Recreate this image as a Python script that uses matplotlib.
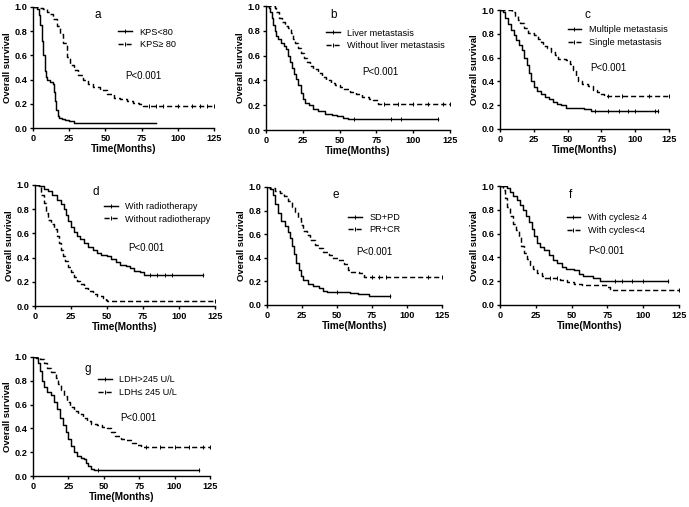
import matplotlib
matplotlib.use("Agg")
import matplotlib.pyplot as plt
from matplotlib.lines import Line2D

plt.rcParams['font.family'] = ['Liberation Sans', 'DejaVu Sans']

# --- survival curves (time in months, survival fraction), drawn step-post ---
# a: KPS
a_t1 = [0, 3, 4, 5, 6, 7, 8, 9, 10, 11.5, 13.5, 14.5, 15, 16, 17, 18, 20, 22, 25, 28, 85]
a_s1 = [1.0, 0.98, 0.93, 0.85, 0.72, 0.6, 0.47, 0.42, 0.4, 0.38, 0.36, 0.3, 0.22, 0.15, 0.1,
        0.085, 0.075, 0.065, 0.055, 0.045, 0.045]
a_t2 = [0, 5, 7, 9.5, 11.8, 14, 16.4, 18.7, 21, 23.3, 25.6, 28, 31.4, 34.8, 38, 41.7, 46.4, 51,
        55.6, 60, 64.8, 69.4, 72.9, 76.3, 125]
a_s2 = [1.0, 0.99, 0.98, 0.96, 0.94, 0.9, 0.84, 0.78, 0.7, 0.59, 0.52, 0.48, 0.44, 0.4, 0.36,
        0.335, 0.31, 0.285, 0.25, 0.24, 0.225, 0.21, 0.2, 0.18, 0.18]
a_c2 = [80, 85, 90, 100, 110, 115, 120, 125]

# b: liver metastasis
b_t1 = [0, 2, 3, 4, 5, 6, 7, 8, 10, 12, 13.8, 15, 16, 17.5, 19, 20.5, 22, 23.5, 25, 26.5, 29,
        32, 35, 40, 45, 48, 52, 56, 117]
b_s1 = [1.0, 0.98, 0.95, 0.9, 0.85, 0.8, 0.76, 0.73, 0.7, 0.68, 0.65, 0.6, 0.55, 0.5, 0.45,
        0.41, 0.36, 0.3, 0.25, 0.22, 0.2, 0.17, 0.15, 0.13, 0.12, 0.11, 0.095, 0.085, 0.085]
b_t2 = [0, 6, 7, 9, 11, 13, 15, 17, 18.5, 20, 22, 24, 26, 28, 30, 32, 35, 38, 41, 44, 47, 50,
        53, 57, 61, 65, 70, 73, 76, 125]
b_s2 = [1.0, 0.98, 0.95, 0.9, 0.87, 0.84, 0.82, 0.78, 0.73, 0.7, 0.66, 0.62, 0.58, 0.55, 0.52,
        0.49, 0.46, 0.43, 0.4, 0.38, 0.36, 0.35, 0.33, 0.31, 0.29, 0.27, 0.25, 0.24, 0.21, 0.21]
b_c1 = [60, 85, 92, 117]
b_c2 = [80, 90, 100, 110, 120, 125]

# c: metastasis count
c_t1 = [0, 2, 4, 6, 8, 10, 12, 14, 16, 18, 20, 21.5, 23, 25, 27, 30, 33, 36, 39, 42, 45, 49,
        55, 62, 67, 117]
c_s1 = [1.0, 0.98, 0.93, 0.88, 0.83, 0.79, 0.75, 0.71, 0.66, 0.6, 0.54, 0.47, 0.4, 0.35, 0.32,
        0.29, 0.27, 0.25, 0.23, 0.21, 0.2, 0.18, 0.175, 0.17, 0.155, 0.155]
c_t2 = [0, 9, 11, 13, 15, 18, 21, 25, 28, 30, 32, 35, 38, 41, 43, 49, 52, 54, 56, 58, 61, 65,
        69, 72, 75, 77, 125]
c_s2 = [1.0, 0.98, 0.95, 0.92, 0.89, 0.85, 0.81, 0.79, 0.76, 0.73, 0.7, 0.68, 0.65, 0.62, 0.59,
        0.58, 0.55, 0.5, 0.44, 0.4, 0.38, 0.36, 0.33, 0.31, 0.29, 0.28, 0.28]
c_c1 = [70, 80, 88, 95, 100, 115, 117]
c_c2 = [80, 90, 110, 125]

# d: radiotherapy
d_t1 = [0, 3, 6, 9, 12, 15, 18, 20, 21.5, 23, 25, 27, 29, 31, 34, 37, 40, 43, 46, 50, 53, 56,
        59, 63, 66, 69, 73, 75.5, 117]
d_s1 = [1.0, 0.99, 0.97, 0.95, 0.92, 0.88, 0.84, 0.8, 0.75, 0.7, 0.65, 0.61, 0.58, 0.55, 0.52,
        0.49, 0.46, 0.44, 0.42, 0.41, 0.39, 0.36, 0.34, 0.33, 0.31, 0.29, 0.28, 0.26, 0.26]
d_t2 = [0, 3, 4.5, 6, 7.5, 9, 11, 13, 15, 16.5, 18, 19.5, 21, 23, 25, 27, 29, 31, 34, 37, 40,
        43, 47, 49, 50, 125]
d_s2 = [1.0, 0.98, 0.92, 0.85, 0.77, 0.71, 0.68, 0.64, 0.58, 0.52, 0.46, 0.41, 0.37, 0.32, 0.28,
        0.24, 0.21, 0.18, 0.15, 0.12, 0.1, 0.08, 0.07, 0.05, 0.04, 0.04]
d_c1 = [80, 85, 90, 95, 117]
d_c2 = [125]

# e: response
e_t1 = [0, 2, 4, 6, 8, 10, 13, 15, 16.5, 18, 19.5, 21, 22.5, 24, 26, 29, 33, 37, 40, 43, 59,
        65, 73, 88]
e_s1 = [1.0, 0.98, 0.93, 0.86, 0.78, 0.71, 0.67, 0.62, 0.57, 0.5, 0.43, 0.36, 0.3, 0.25, 0.21,
        0.18, 0.16, 0.14, 0.12, 0.11, 0.1, 0.09, 0.08, 0.075]
e_t2 = [0, 2, 6, 9.5, 12, 15, 18, 20, 22, 24, 26, 28.5, 31, 34, 37, 40, 44, 47, 51, 55, 58, 60,
        66, 69, 125]
e_s2 = [1.0, 0.99, 0.97, 0.95, 0.92, 0.88, 0.83, 0.79, 0.74, 0.68, 0.63, 0.59, 0.55, 0.51, 0.48,
        0.45, 0.42, 0.4, 0.38, 0.35, 0.3, 0.28, 0.27, 0.24, 0.24]
e_c1 = [50, 88]
e_c2 = [75, 80, 85, 115, 125]

# f: chemo cycles
f_t1 = [0, 5, 7, 9, 12, 14, 16, 18, 20, 22, 24, 26, 28, 31, 34, 37, 40, 43, 46, 52, 55, 58,
        65, 70, 117]
f_s1 = [1.0, 0.98, 0.95, 0.92, 0.88, 0.84, 0.8, 0.75, 0.7, 0.64, 0.58, 0.52, 0.49, 0.46, 0.42,
        0.38, 0.35, 0.32, 0.3, 0.29, 0.26, 0.24, 0.23, 0.2, 0.2]
f_t2 = [0, 2, 3.5, 5, 7, 9, 11, 13, 15, 17, 19, 21, 23, 26, 29, 31, 42, 47, 52, 57, 74, 77, 125]
f_s2 = [1.0, 0.97, 0.9, 0.82, 0.75, 0.68, 0.63, 0.57, 0.5, 0.44, 0.39, 0.34, 0.3, 0.27, 0.24,
        0.23, 0.21, 0.19, 0.18, 0.17, 0.15, 0.13, 0.13]
f_c1 = [80, 85, 92, 100, 117]
f_c2 = [35, 40, 125]

# g: LDH
g_t1 = [0, 2, 3.5, 5, 6.5, 8, 10, 13, 15, 17, 19, 21, 23, 25, 27, 29, 31, 34, 36, 37.5, 39,
        41, 43, 117]
g_s1 = [1.0, 0.99, 0.95, 0.88, 0.8, 0.75, 0.71, 0.68, 0.62, 0.56, 0.49, 0.43, 0.37, 0.31, 0.25,
        0.2, 0.17, 0.15, 0.14, 0.11, 0.08, 0.06, 0.05, 0.05]
g_t2 = [0, 5, 8, 10, 13, 16, 18, 20, 22, 24, 26, 29, 32, 35, 38, 41, 45, 49, 52, 55, 58, 62,
        66, 70, 73, 76, 125]
g_s2 = [1.0, 0.98, 0.95, 0.91, 0.87, 0.82, 0.77, 0.72, 0.67, 0.62, 0.58, 0.55, 0.52, 0.49, 0.46,
        0.44, 0.43, 0.41, 0.4, 0.37, 0.34, 0.31, 0.3, 0.28, 0.26, 0.24, 0.24]
g_c1 = [46, 117]
g_c2 = [80, 90, 100, 110, 120, 125]

panels = [
    # letter, curves, labels, axes box (px: l, r, t, b), letter pos, legend anchor, p-value pos
    ("a", (a_t1, a_s1, [], a_t2, a_s2, a_c2), ["KPS<80", "KPS\u2265 80"],
     (33, 214, 7, 128), (45, 0.93), (59, 0.74), (63.6, 0.43)),
    ("b", (b_t1, b_s1, b_c1, b_t2, b_s2, b_c2), ["Liver metastasis", "Without liver metastasis"],
     (266, 450, 6, 130), (45.6, 0.93), (41, 0.73), (65.6, 0.47)),
    ("c", (c_t1, c_s1, c_c1, c_t2, c_s2, c_c2), ["Multiple metastasis", "Single metastasis"],
     (500, 669, 10, 129), (65, 0.955), (50, 0.78), (67, 0.51)),
    ("d", (d_t1, d_s1, d_c1, d_t2, d_s2, d_c2), ["With radiotherapy", "Without radiotherapy"],
     (35, 215, 185, 306), (42, 0.94), (48, 0.77), (65, 0.48)),
    ("e", (e_t1, e_s1, e_c1, e_t2, e_s2, e_c2), ["SD+PD", "PR+CR"],
     (267, 442, 187, 305), (49, 0.93), (58, 0.69), (64, 0.45)),
    ("f", (f_t1, f_s1, f_c1, f_t2, f_s2, f_c2), ["With cycles\u2265 4", "With cycles<4"],
     (500, 679, 186, 305), (49.5, 0.925), (46.5, 0.68), (61.7, 0.45)),
    ("g", (g_t1, g_s1, g_c1, g_t2, g_s2, g_c2), ["LDH>245 U/L", "LDH\u2264 245 U/L"],
     (33, 210, 357, 476), (39, 0.9), (46, 0.755), (61.5, 0.49)),
]

W, H = 689, 507
fig = plt.figure(figsize=(W / 100, H / 100), dpi=100)
DASH = (0, (3.5, 2))

for letter, curves, labels, box, lpos, legpos, ppos in panels:
    l, r, t, b = box
    ax = fig.add_axes([l / W, 1 - b / H, (r - l) / W, (b - t) / H])
    t1, s1, c1, t2, s2, c2 = curves
    ax.step(t1, s1, where="post", color="k", lw=1.05)
    ax.step(t2, s2, where="post", color="k", lw=1.05, ls=DASH)
    # censor marks
    for ct, tt, ss in ((c1, t1, s1), (c2, t2, s2)):
        ys = []
        for c in ct:
            v = ss[0]
            for ti, si in zip(tt, ss):
                if ti <= c:
                    v = si
            ys.append(v)
        ax.plot(ct, ys, ls="none", marker="|", color="k", ms=2.5, mew=0.7)

    ax.set_xlim(0, 125)
    ax.set_ylim(0, 1.0)
    ax.set_xticks([0, 25, 50, 75, 100, 125])
    ax.set_yticks([0, 0.2, 0.4, 0.6, 0.8, 1.0])
    ax.set_yticklabels(["0.0", "0.2", "0.4", "0.6", "0.8", "1.0"])
    for s in ("top", "right"):
        ax.spines[s].set_visible(False)
    for s in ("left", "bottom"):
        ax.spines[s].set_linewidth(1.0)
    ax.tick_params(direction="out", length=2.5, width=1.0, labelsize=6.6, pad=1.5)
    for lab in ax.get_xticklabels() + ax.get_yticklabels():
        lab.set_fontweight("bold")
    ax.set_xlabel("Time(Months)", fontsize=7.2, fontweight="bold", labelpad=1)
    ax.set_ylabel("Overall survival", fontsize=6.8, fontweight="bold", labelpad=2)

    ax.text(lpos[0], lpos[1], letter, fontsize=8.5, ha="center", va="center")
    ax.text(ppos[0], ppos[1], "P<0.001", fontsize=7, ha="left", va="center")

    handles = [
        Line2D([], [], color="k", lw=1.05, marker="|", ms=2.5, mew=0.7),
        Line2D([], [], color="k", lw=1.05, ls=DASH, marker="|", ms=2.5, mew=0.7),
    ]
    ax.legend(handles, labels, loc="center left", bbox_to_anchor=legpos,
              bbox_transform=ax.transData, frameon=False, fontsize=6.6,
              handlelength=1.5, handletextpad=0.8, labelspacing=0.4,
              borderpad=0, borderaxespad=0, numpoints=1)

fig.savefig("out.png", dpi=100)
